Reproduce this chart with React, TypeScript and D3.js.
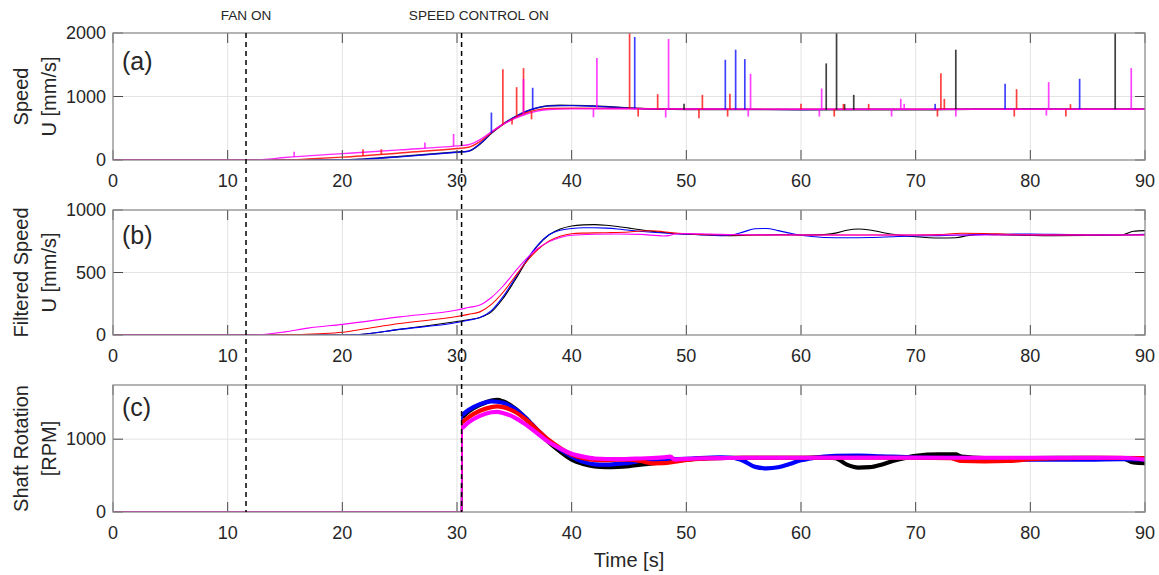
import React from 'react';
import * as d3 from 'd3';

type Pt = [number, number];

// ---------- axis ticks ----------
const timeTicks = [0, 10, 20, 30, 40, 50, 60, 70, 80, 90];
const speedTicks = [0, 1000, 2000];
const filteredTicks = [0, 500, 1000];
const rpmTicks = [0, 1000];

// ---------- events ----------
const fanOnTime = 11.6;
const controlOnTime = 30.4;
const fanOnLabel = 'FAN ON';
const controlOnLabel = 'SPEED CONTROL ON';
const controlLabelStart = 25.8;

const seriesColors = ['#000000', '#0000ff', '#ff0000', '#ff00ff'];

// ---------- (a) raw speed, base curves ----------
const rawBlack: Pt[] = [[0,0],[20,0],[22,18],[25,55],[30,125],[31,140],[32,250],[33,420],[34,560],[35,670],[36,760],[37,820],[38,855],[39,862],[40,860],[42,852],[44,832],[46,812],[48,802],[50,796],[55,795],[60,790],[65,792],[70,790],[75,800],[80,800],[85,800],[90,800]];
const rawBlue: Pt[] = [[0,0],[20,0],[22,14],[25,50],[30,122],[31,138],[32,255],[33,425],[34,565],[35,675],[36,765],[37,822],[38,852],[40,856],[42,846],[45,815],[48,802],[55,798],[60,795],[65,800],[70,798],[75,800],[80,802],[85,800],[90,800]];
const rawRed: Pt[] = [[0,0],[15,0],[17,15],[20,45],[25,110],[30,180],[31,200],[32,290],[33,430],[34,560],[35,660],[36,740],[37,790],[38,810],[40,815],[45,810],[50,802],[60,800],[70,800],[80,800],[90,800]];
const rawMagenta: Pt[] = [[0,0],[12,0],[13,5],[15,40],[20,100],[25,160],[30,222],[31,240],[32,320],[33,445],[34,560],[35,650],[36,720],[37,770],[38,795],[40,805],[45,808],[50,802],[60,800],[70,800],[80,800],[90,800]];

// ---------- (a) raw speed, spikes [time, peak value] ----------
const spikeBlack: Pt[] = [[49.8,884],[62.2,1521],[63.1,2000],[63.8,880],[64.6,1026],[73.5,1737],[87.4,2000]];
const spikeBlue: Pt[] = [[33.0,747],[36.6,1137],[45.5,1937],[53.4,1579],[54.3,1737],[55.1,1589],[71.7,884],[77.8,1200],[84.3,1279]];
const spikeRed: Pt[] = [[21.8,170],[23.4,170],[34.0,1430],[34.8,560],[35.2,1147],[35.8,1447],[36.5,640],[45.05,2000],[45.8,684],[47.5,1037],[51.1,658],[51.4,1026],[53.6,684],[53.8,1042],[60.0,884],[62.9,684],[63.7,884],[65.9,884],[71.9,684],[72.2,1368],[72.5,963],[78.6,684],[78.8,1116],[83.1,684],[83.5,879]];
const spikeMagenta: Pt[] = [[15.8,130],[27.2,275],[29.7,410],[35.8,1274],[41.9,674],[42.2,1605],[48.2,668],[48.45,1905],[55.4,684],[55.6,1358],[61.6,684],[61.8,1126],[67.9,684],[68.7,963],[69.0,884],[73.5,684],[81.4,700],[81.6,1226],[88.8,1447]];

// ---------- (b) filtered speed ----------
const filtBlack: Pt[] = [[0,0],[12,0],[20,0],[21,2],[25,45],[30,108],[31,122],[32,140],[33,185],[34,290],[35,430],[36,580],[37,710],[38,800],[39,848],[40,872],[41,881],[42,883],[43,878],[44,868],[45,855],[46,842],[47,830],[48,820],[50,808],[52,800],[54,795],[56,800],[58,803],[60,800],[62,803],[63,815],[64,838],[65,848],[66,840],[67,822],[68,806],[70,786],[72,776],[73.5,778],[74.5,795],[76,805],[78,800],[80,796],[82,795],[85,796],[88,800],[89,830],[90,835]];
const filtBlue: Pt[] = [[0,0],[20,0],[21,1],[25,45],[30,100],[31,118],[32,140],[33,195],[34,305],[35,445],[36,590],[37,715],[38,800],[39,838],[40,852],[41,858],[42,858],[43,855],[44,848],[45,838],[47,822],[49,810],[51,803],[53,795],[54,800],[55,825],[56,850],[57,852],[58,835],[59,815],[60,798],[61,788],[62,780],[64,778],[66,780],[68,786],[70,792],[72,795],[74,800],[76,805],[78,806],[80,808],[82,805],[85,802],[88,800],[90,805]];
const filtRed: Pt[] = [[0,0],[12,0],[16,3],[18,10],[20,22],[22,50],[25,92],[30,148],[31,165],[32,185],[33,245],[34,340],[35,460],[36,580],[37,680],[38,750],[39,790],[40,810],[41,815],[43,818],[45,824],[46,832],[47,834],[48,826],[49,815],[50,810],[52,802],[55,800],[60,800],[65,800],[70,800],[72,803],[74,814],[76,812],[78,806],[80,802],[85,800],[90,800]];
const filtMagenta: Pt[] = [[0,0],[12,0],[13,3],[15,25],[17,55],[20,85],[25,145],[30,200],[31,220],[32,240],[33,300],[34,390],[35,500],[36,605],[37,690],[38,745],[39,780],[40,798],[42,806],[44,808],[46,805],[48,792],[48.5,795],[49,808],[50,812],[52,808],[55,802],[60,800],[65,800],[70,800],[75,800],[80,800],[85,800],[90,800]];

// ---------- (c) shaft rotation ----------
const rpmBlack: Pt[] = [[0,0],[30.4,0],[30.45,1300],[31,1380],[32,1470],[33,1530],[33.5,1540],[34,1520],[35,1430],[36,1290],[37,1120],[38,960],[39,830],[40,720],[41,660],[42,625],[43,615],[44,618],[45,630],[46,650],[47,668],[48,680],[49,700],[50,720],[52,740],[55,745],[58,745],[60,745],[62,750],[63,740],[64,650],[65,610],[66,615],[67,650],[68,700],[69,740],[70,770],[72,790],[73.5,790],[74,760],[76,740],[80,740],[85,745],[88,740],[89,680],[90,670]];
const rpmBlue: Pt[] = [[0,0],[30.4,0],[30.45,1330],[31,1400],[32,1480],[33,1520],[34,1500],[35,1420],[36,1290],[37,1130],[38,980],[39,860],[40,760],[41,690],[42,655],[43,650],[44,660],[45,675],[46,700],[48,720],[50,730],[53,750],[54,745],[55,700],[56,620],[57,600],[58,615],[59,660],[60,710],[61,740],[63,770],[65,775],[67,765],[70,750],[72,745],[75,740],[80,720],[85,720],[88,725],[90,720]];
const rpmRed: Pt[] = [[0,0],[30.4,0],[30.45,1230],[31,1300],[32,1390],[33,1440],[33.5,1450],[34,1440],[35,1380],[36,1270],[37,1130],[38,990],[39,880],[40,790],[41,740],[42,715],[43,712],[44,720],[45,720],[46,700],[47,668],[48,670],[49,690],[50,715],[52,735],[55,745],[60,745],[65,745],[70,745],[73,740],[74,700],[76,695],[78,700],[80,725],[83,740],[86,745],[90,740]];
const rpmMagenta: Pt[] = [[0,0],[30.4,0],[30.45,1150],[31,1230],[32,1320],[33,1370],[33.5,1375],[34,1360],[35,1300],[36,1200],[37,1080],[38,960],[39,870],[40,800],[41,760],[42,735],[44,725],[46,735],[48,750],[48.6,760],[49,720],[50,730],[53,740],[55,745],[60,745],[65,745],[70,745],[75,745],[80,745],[85,745],[88,745],[90,720]];

const W = 1159;
const H = 575;
const LEFT = 113;
const RIGHT = 1145;
const FONT = '"Liberation Sans", Arial, Helvetica, sans-serif';
const TEXT = '#262626';
const BOX = '#8c8c8c';
const GRID = '#e3e3e3';
const TICK = '#4a4a4a';

const x = d3.scaleLinear().domain([0, 90]).range([LEFT, RIGHT]);

interface PanelProps {
  id: string;
  top: number;
  bottom: number;
  yMax: number;
  yTicks: number[];
  tag: string;
  tagBaseline: number;
  labelLines: string[];
  children: (y: d3.ScaleLinear<number, number>) => React.ReactNode;
}

function Panel({ id, top, bottom, yMax, yTicks, tag, tagBaseline, labelLines, children }: PanelProps) {
  const y = d3.scaleLinear().domain([0, yMax]).range([bottom, top]);
  const cy = (top + bottom) / 2;
  const tickLen = 10;
  return (
    <g>
      <defs>
        <clipPath id={id}>
          <rect x={LEFT} y={top} width={RIGHT - LEFT} height={bottom - top} />
        </clipPath>
      </defs>
      <rect x={LEFT} y={top} width={RIGHT - LEFT} height={bottom - top} fill="#fff" />
      {timeTicks.slice(1, -1).map(t => (
        <line key={'gx' + t} x1={x(t)} x2={x(t)} y1={top} y2={bottom} stroke={GRID} strokeWidth={1} />
      ))}
      {yTicks.filter(v => v > 0 && v < yMax).map(v => (
        <line key={'gy' + v} x1={LEFT} x2={RIGHT} y1={y(v)} y2={y(v)} stroke={GRID} strokeWidth={1} />
      ))}
      <g clipPath={`url(#${id})`}>{children(y)}</g>
      {timeTicks.map(t => (
        <g key={'tx' + t}>
          <line x1={x(t)} x2={x(t)} y1={bottom} y2={bottom - tickLen} stroke={TICK} strokeWidth={1} />
          <line x1={x(t)} x2={x(t)} y1={top} y2={top + tickLen} stroke={TICK} strokeWidth={1} />
          <text x={x(t)} y={bottom + 27} textAnchor="middle" fontSize={18} fill={TEXT} fontFamily={FONT}>{t}</text>
        </g>
      ))}
      {yTicks.map(v => (
        <g key={'ty' + v}>
          <line x1={LEFT} x2={LEFT + tickLen} y1={y(v)} y2={y(v)} stroke={TICK} strokeWidth={1} />
          <line x1={RIGHT} x2={RIGHT - tickLen} y1={y(v)} y2={y(v)} stroke={TICK} strokeWidth={1} />
          <text x={106} y={y(v)} dy="0.35em" textAnchor="end" fontSize={18} fill={TEXT} fontFamily={FONT}>{v}</text>
        </g>
      ))}
      <rect x={LEFT} y={top} width={RIGHT - LEFT} height={bottom - top} fill="none" stroke={BOX} strokeWidth={1.3} />
      <text x={122} y={tagBaseline} fontSize={25} fill={TEXT} fontFamily={FONT}>{tag}</text>
      {labelLines.map((s, i) => {
        const bx = i === 0 ? 28 : 56;
        return (
          <text key={s} transform={`translate(${bx},${cy}) rotate(-90)`} textAnchor="middle" fontSize={20} fill={TEXT} fontFamily={FONT}>{s}</text>
        );
      })}
    </g>
  );
}

export default function App() {
  const rawSeries = [rawBlack, rawBlue, rawRed, rawMagenta];
  const spikeSeries = [spikeBlack, spikeBlue, spikeRed, spikeMagenta];
  const filtSeries = [filtBlack, filtBlue, filtRed, filtMagenta];
  const rpmSeries = [rpmBlack, rpmBlue, rpmRed, rpmMagenta];

  const mkLine = (y: d3.ScaleLinear<number, number>) =>
    d3.line<Pt>().x(d => x(d[0])).y(d => y(d[1])).curve(d3.curveMonotoneX);

  const aTop = 33, aBot = 160, bTop = 210, bBot = 335, cTop = 385, cBot = 512;

  return (
    <svg width={W} height={H} viewBox={`0 0 ${W} ${H}`} style={{ position: 'absolute', left: 0, top: 0, display: 'block', background: '#fff' }}>
      <rect x={0} y={0} width={W} height={H} fill="#fff" />
      <Panel id="clipA" top={aTop} bottom={aBot} yMax={2000} yTicks={speedTicks} tag="(a)" tagBaseline={70} labelLines={['Speed', 'U [mm/s]']}>
        {y => {
          const line = mkLine(y);
          return (
            <g>
              {rawSeries.map((s, i) => (
                <path key={'r' + i} d={line(s) || ''} fill="none" stroke={seriesColors[i]} strokeWidth={1.4} strokeOpacity={0.85} />
              ))}
              {spikeSeries.map((sp, i) => {
                const base = d3.scaleLinear().domain(rawSeries[i].map(d => d[0])).range(rawSeries[i].map(d => d[1]));
                return sp.map(([t, v], k) => (
                  <line key={'s' + i + '-' + k} x1={x(t)} x2={x(t)} y1={y(base(t))} y2={y(v)} stroke={seriesColors[i]} strokeWidth={1.7} strokeOpacity={0.75} />
                ));
              })}
            </g>
          );
        }}
      </Panel>
      <Panel id="clipB" top={bTop} bottom={bBot} yMax={1000} yTicks={filteredTicks} tag="(b)" tagBaseline={244} labelLines={['Filtered Speed', 'U [mm/s]']}>
        {y => {
          const line = mkLine(y);
          return (
            <g>
              {filtSeries.map((s, i) => (
                <path key={'f' + i} d={line(s) || ''} fill="none" stroke={seriesColors[i]} strokeWidth={1.1} />
              ))}
            </g>
          );
        }}
      </Panel>
      <Panel id="clipC" top={cTop} bottom={cBot} yMax={1744} yTicks={rpmTicks} tag="(c)" tagBaseline={416} labelLines={['Shaft Rotation', '[RPM]']}>
        {y => {
          const line = mkLine(y);
          return (
            <g>
              {rpmSeries.map((s, i) => (
                <g key={'c' + i}>
                  <path d={line(s) || ''} fill="none" stroke={seriesColors[i]} strokeWidth={1.6} />
                  <path d={line(s.filter(d => d[0] > controlOnTime)) || ''} fill="none" stroke={seriesColors[i]} strokeWidth={4.2} strokeLinejoin="round" />
                </g>
              ))}
            </g>
          );
        }}
      </Panel>
      {[fanOnTime, controlOnTime].map(t => (
        <line key={'ev' + t} x1={x(t)} x2={x(t)} y1={aTop} y2={cBot} stroke="#000" strokeWidth={1.5} strokeDasharray="5,4" />
      ))}
      <text x={x(fanOnTime)} y={20} textAnchor="middle" fontSize={13.6} fill={TEXT} fontFamily={FONT}>{fanOnLabel}</text>
      <text x={x(controlLabelStart)} y={20} textAnchor="start" fontSize={13.6} fill={TEXT} fontFamily={FONT}>{controlOnLabel}</text>
      <text x={(LEFT + RIGHT) / 2} y={567} textAnchor="middle" fontSize={20} fill={TEXT} fontFamily={FONT}>Time [s]</text>
    </svg>
  );
}
